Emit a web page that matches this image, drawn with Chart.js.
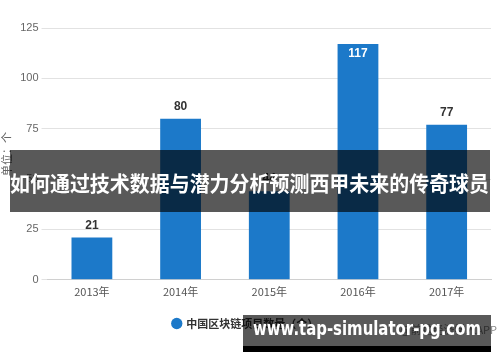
<!DOCTYPE html>
<html>
<head>
<meta charset="utf-8">
<script src="https://cdn.jsdelivr.net/npm/chart.js@4"></script>
<style>
  html, body { margin: 0; padding: 0; background: #fff; }
  #mainChart { display: block; }
</style>
</head>
<body>
<canvas id="mainChart" width="500" height="362"></canvas>
<script>
var years = ["2013年", "2014年", "2015年", "2016年", "2017年"];
var projects = [21, 80, 44, 117, 77];
var yTicks = [0, 25, 50, 75, 100, 125];
var seriesName = "中国区块链项目数量（个）";
var bannerText = "如何通过技术数据与潜力分析预测西甲未来的传奇球员";
var siteText = "www.tap-simulator-pg.com";

// draw text squeezed into a given width if it is too wide
function fitText(ctx, text, x, y, maxW) {
    var w = ctx.measureText(text).width;
    if (w > maxW) {
        ctx.save();
        ctx.translate(x, y);
        ctx.scale(maxW / w, 1);
        ctx.fillText(text, 0, 0);
        ctx.restore();
    } else {
        ctx.fillText(text, x, y);
    }
}

var barLabels = {
    id: "barLabels",
    afterDatasetsDraw: function (chart) {
        var ctx = chart.ctx;
        var meta = chart.getDatasetMeta(0);
        ctx.save();
        ctx.font = "bold 12px 'Liberation Sans', Arial, sans-serif";
        ctx.textAlign = "center";
        meta.data.forEach(function (bar, i) {
            var v = projects[i];
            if (bar.y - 20 < chart.chartArea.top) {
                ctx.fillStyle = "#ffffff";
                ctx.textBaseline = "top";
                ctx.fillText(v, bar.x, bar.y + 4);
            } else {
                ctx.fillStyle = "#333333";
                ctx.textBaseline = "bottom";
                ctx.fillText(v, bar.x, bar.y - 6);
            }
        });
        ctx.restore();
    },
    afterDraw: function (chart) {
        var ctx = chart.ctx;
        ctx.save();
        // text partly covered by the site banner
        ctx.fillStyle = "#888";
        ctx.font = "11px 'Noto Sans CJK SC', sans-serif";
        ctx.textAlign = "right";
        ctx.textBaseline = "middle";
        ctx.fillText("@前瞻经济学人APP", 497, 330);
        // big title banner
        ctx.fillStyle = "rgba(0,0,0,0.65)";
        ctx.fillRect(10, 150, 480, 62);
        ctx.fillStyle = "#ffffff";
        ctx.font = "bold 21px 'Noto Sans CJK SC', sans-serif";
        ctx.textAlign = "left";
        fitText(ctx, bannerText, 10, 183, 479);
        // site banner
        ctx.fillStyle = "rgba(0,0,0,0.65)";
        ctx.fillRect(243, 315, 248, 32);
        ctx.fillStyle = "#000";
        ctx.fillRect(243, 346, 248, 6);
        ctx.fillStyle = "#ffffff";
        ctx.font = "bold 19px 'DejaVu Sans', sans-serif";
        fitText(ctx, siteText, 253, 330, 228);
        ctx.restore();
    }
};

var ctx = document.getElementById("mainChart").getContext("2d");
var myChart = new Chart(ctx, {
    type: "bar",
    data: {
        labels: years,
        datasets: [
            {
                label: seriesName,
                data: projects,
                backgroundColor: "#1c79c9",
                barPercentage: 0.46,
                categoryPercentage: 1,
            },
        ],
    },
    options: {
        responsive: false,
        animation: false,
        layout: {
            padding: { top: 28, right: 9, bottom: 23, left: 0 }
        },
        plugins: {
            legend: {
                position: "bottom",
                labels: {
                    usePointStyle: true,
                    pointStyle: "circle",
                    boxWidth: 8,
                    boxHeight: 8,
                    padding: 15,
                    color: "#333",
                    font: { size: 11, weight: "bold", family: "'Noto Sans CJK SC', sans-serif" },
                },
            },
            tooltip: { enabled: false },
        },
        scales: {
            x: {
                grid: { display: false, drawTicks: false },
                border: { color: "#d0d0d0" },
                ticks: {
                    color: "#555",
                    font: { size: 11, family: "'Noto Sans CJK SC', sans-serif" },
                    padding: 5,
                },
            },
            y: {
                min: 0,
                max: 125,
                afterBuildTicks: function (axis) {
                    axis.ticks = yTicks.map(function (v) { return { value: v }; });
                },
                border: { display: false },
                grid: { color: "#e2e2e2", tickLength: 6 },
                ticks: {
                    color: "#666",
                    font: { size: 11, family: "'Liberation Sans', Arial, sans-serif" },
                    padding: 3,
                },
                title: {
                    display: true,
                    text: "单位：个",
                    color: "#666",
                    font: { size: 11, family: "'Noto Sans CJK SC', sans-serif" },
                    padding: { top: 0, bottom: 4 },
                },
            },
        },
    },
    plugins: [barLabels],
});
</script>
</body>
</html>
